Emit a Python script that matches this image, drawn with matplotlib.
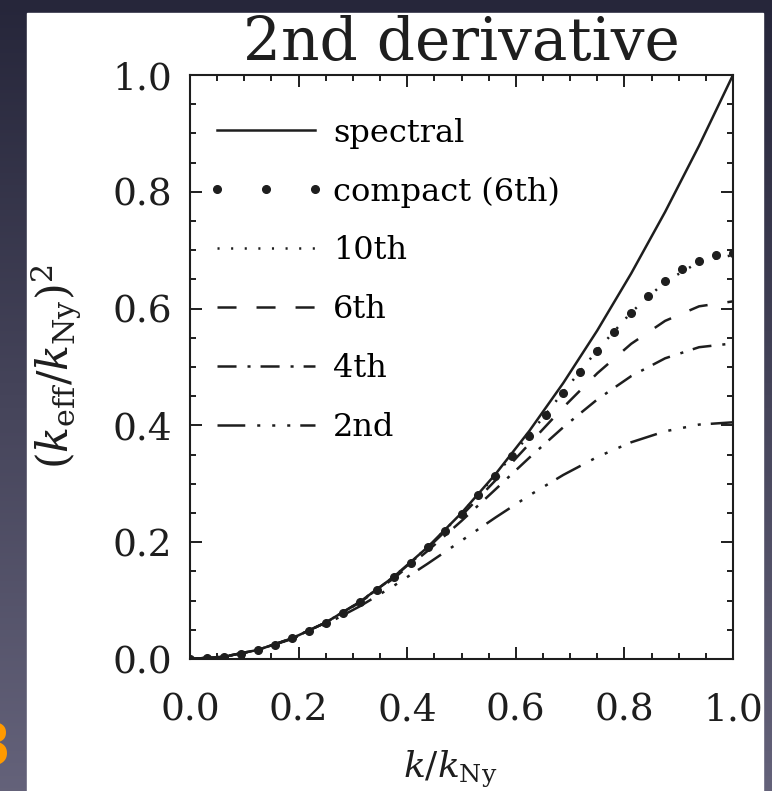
import numpy as np
import matplotlib
matplotlib.use('Agg')
import matplotlib.pyplot as plt
from matplotlib.patches import Rectangle
from matplotlib.lines import Line2D
from matplotlib.legend_handler import HandlerLine2D
from matplotlib.ticker import MultipleLocator

plt.rcParams['font.family'] = ['DejaVu Serif']
plt.rcParams['mathtext.fontset'] = 'dejavuserif'
plt.rcParams['lines.scale_dashes'] = False

## Data: (k_eff/k_Ny)^2 against k/k_Ny
k_line = [0.0, 0.0625, 0.125, 0.1875, 0.25, 0.3125, 0.375, 0.4375, 0.5,
          0.5625, 0.625, 0.6875, 0.75, 0.8125, 0.875, 0.9375, 1.0]
spectral = [0.0, 0.0039, 0.0156, 0.0352, 0.0625, 0.0977, 0.1406, 0.1914, 0.25,
            0.3164, 0.3906, 0.4727, 0.5625, 0.6602, 0.7656, 0.8789, 1.0]
tenth = [0.0, 0.0039, 0.0156, 0.0352, 0.0625, 0.0977, 0.1406, 0.1912, 0.2493,
         0.3142, 0.3843, 0.4572, 0.5287, 0.5935, 0.6458, 0.6798, 0.6917]
sixth = [0.0, 0.0039, 0.0156, 0.0352, 0.0625, 0.0975, 0.1401, 0.1897, 0.2454,
         0.3058, 0.3686, 0.4309, 0.4892, 0.5397, 0.5790, 0.6039, 0.6124]
fourth = [0.0, 0.0039, 0.0156, 0.0351, 0.0623, 0.0967, 0.1380, 0.1850, 0.2364,
          0.2904, 0.3448, 0.3969, 0.4444, 0.4844, 0.5149, 0.5339, 0.5404]
second = [0.0, 0.0039, 0.0154, 0.0342, 0.0594, 0.0901, 0.1251, 0.1631, 0.2026,
          0.2422, 0.2802, 0.3152, 0.3459, 0.3711, 0.3899, 0.4014, 0.4053]

k_compact = [0.0, 0.0312, 0.0625, 0.0938, 0.125, 0.1562, 0.1875, 0.2188, 0.25,
             0.2812, 0.3125, 0.3438, 0.375, 0.4062, 0.4375, 0.4688, 0.5,
             0.5312, 0.5625, 0.5938, 0.625, 0.6562, 0.6875, 0.7188, 0.75,
             0.7812, 0.8125, 0.8438, 0.875, 0.9062, 0.9375, 0.9688, 1.0]
compact = [0.0, 0.0010, 0.0039, 0.0088, 0.0156, 0.0244, 0.0352, 0.0479, 0.0625,
           0.0791, 0.0976, 0.1181, 0.1405, 0.1648, 0.1910, 0.2190, 0.2487,
           0.2801, 0.3130, 0.3472, 0.3825, 0.4185, 0.4549, 0.4911, 0.5266,
           0.5607, 0.5926, 0.6215, 0.6466, 0.6671, 0.6823, 0.6916, 0.6948]

tick_vals = [0.0, 0.2, 0.4, 0.6, 0.8, 1.0]
tick_text = ['0.0', '0.2', '0.4', '0.6', '0.8', '1.0']

ink = '#1e1e1e'

fig = plt.figure(figsize=(7.72, 7.91), dpi=100)

# slide background: dark gradient, white panel, orange slide number
bg = fig.add_axes([0, 0, 1, 1], zorder=-2)
grad = np.linspace(0, 1, 256)[:, None, None]
top_col = np.array([38, 38, 58]) / 255
bot_col = np.array([100, 98, 122]) / 255
bg.imshow(top_col + (bot_col - top_col) * grad, aspect='auto',
          extent=[0, 1, 0, 1], origin='upper')
bg.add_patch(Rectangle((27/772, 0), (763-27)/772, (791-13)/791,
                       color='white', zorder=2))
bg.text(11/772, 26/791, '3', color='#ff9a00', fontsize=42, fontweight='bold',
        family='DejaVu Sans', ha='right', va='baseline', zorder=3)
bg.set_xlim(0, 1)
bg.set_ylim(0, 1)
bg.axis('off')

ax = fig.add_axes([190/772, 132/791, 543/772, 584/791])
ax.patch.set_alpha(0)

lw = 1.8
ax.plot(k_line, spectral, color=ink, lw=lw, ls='-', label='spectral')
ax.plot(k_compact, compact, ls='none', marker='o', ms=5.5, color=ink,
        label='compact (6th)')
ax.plot(k_line, tenth, color=ink, lw=lw, ls=(0, (1.5, 8.3)), label='10th')
ax.plot(k_line, sixth, color=ink, lw=lw, ls=(0, (13.7, 14.4)), label='6th')
ax.plot(k_line, fourth, color=ink, lw=lw, ls=(0, (13.7, 7.9, 2.2, 7.2)),
        label='4th')
ax.plot(k_line, second, color=ink, lw=lw,
        ls=(0, (20, 8.6, 2.2, 8.6, 2.2, 8.6, 2.2, 7.2)), label='2nd')

ax.legend(loc='upper left', bbox_to_anchor=(0.0497, 0.927), frameon=False,
          fontsize=23, handlelength=3.07, handletextpad=0.56, labelspacing=0.87,
          borderpad=0, borderaxespad=0, numpoints=3,
          handler_map={Line2D: HandlerLine2D(marker_pad=0)})

ax.set_xlim(0, 1)
ax.set_ylim(0, 1)
ax.set_xticks(tick_vals)
ax.set_xticklabels(tick_text)
ax.set_yticks(tick_vals)
ax.set_yticklabels(tick_text)
ax.xaxis.set_minor_locator(MultipleLocator(0.05))
ax.yaxis.set_minor_locator(MultipleLocator(0.05))
ax.tick_params(which='both', direction='in', top=True, right=True,
               width=1.4, color=ink, labelsize=27, labelcolor=ink)
ax.tick_params(which='major', length=8.5)
ax.tick_params(which='minor', length=4.3)
ax.tick_params(axis='x', pad=24)
ax.tick_params(axis='y', pad=13)
for s in ax.spines.values():
    s.set_linewidth(1.5)
    s.set_color(ink)

ax.set_xlabel(r'$k/k_{\rm Ny}$', fontsize=26, color=ink)
ax.xaxis.set_label_coords(0.48, -0.152)
ax.set_ylabel(r'$(k_{\rm eff}/k_{\rm Ny})^2$', fontsize=31, color=ink)
ax.yaxis.set_label_coords(-0.197, 0.5)

fig.text(461/772, 1 - 60/791, '2nd derivative', fontsize=43, color=ink,
         ha='center', va='baseline')

fig.savefig('out.png', dpi=100)
